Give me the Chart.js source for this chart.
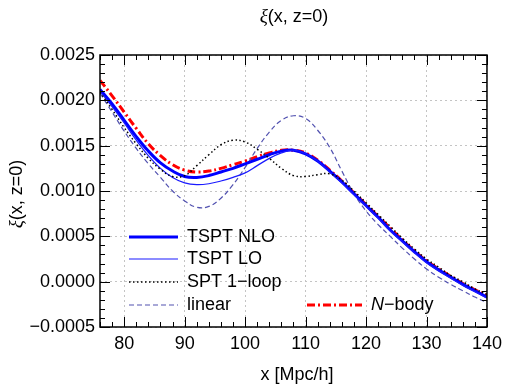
<!DOCTYPE html>
<html>
<head>
<meta charset="utf-8">
<script src="https://cdn.jsdelivr.net/npm/chart.js@4"></script>
<style>
  body { margin: 0; background: #fff; }
</style>
</head>
<body>
<canvas id="xiChart" width="508" height="385"></canvas>
<script>
// separation x in Mpc/h
const xValues = [76, 78, 80, 82, 84, 86, 88, 90, 92, 94, 96, 98, 100, 102, 104, 106, 108,
                 110, 112, 114, 116, 118, 120, 122, 124, 126, 128, 130, 132, 134, 136, 138, 140];

// correlation function values
const nloValues = [0.00212, 0.00196, 0.00178, 0.00160, 0.00144, 0.00131, 0.00122, 0.00116, 0.00115, 0.00117, 0.00121,
                   0.00125, 0.00130, 0.00135, 0.00140, 0.00144, 0.00145, 0.00141, 0.00133, 0.00122, 0.00110, 0.00097,
                   0.00084, 0.00071, 0.00057, 0.00045, 0.00033, 0.00022, 0.00013, 0.00005, -0.00003, -0.00010, -0.00017];
const loValues = [0.00210, 0.00193, 0.00175, 0.00156, 0.00139, 0.00125, 0.00115, 0.00109, 0.00107, 0.00108, 0.00111,
                  0.00115, 0.00120, 0.00128, 0.00136, 0.00142, 0.00145, 0.00141, 0.00133, 0.00121, 0.00109, 0.00096,
                  0.00083, 0.00070, 0.00056, 0.00044, 0.00032, 0.00021, 0.00012, 0.00004, -0.00004, -0.00011, -0.00018];
const sptValues = [0.00209, 0.00190, 0.00170, 0.00152, 0.00136, 0.00124, 0.00116, 0.00117, 0.00128, 0.00140, 0.00151,
                   0.00156, 0.00154, 0.00146, 0.00136, 0.00125, 0.00117, 0.00116, 0.00118, 0.00119, 0.00112, 0.00100,
                   0.00087, 0.00074, 0.00061, 0.00048, 0.00036, 0.00025, 0.00016, 0.00007, 0.00000, -0.00008, -0.00014];
const linearValues = [0.00208, 0.00187, 0.00166, 0.00147, 0.00130, 0.00115, 0.00100, 0.00089, 0.00082, 0.00083, 0.00092,
                      0.00107, 0.00126, 0.00147, 0.00165, 0.00178, 0.00183, 0.00180, 0.00167, 0.00148, 0.00122, 0.00097,
                      0.00078, 0.00063, 0.00050, 0.00037, 0.00025, 0.00014, 0.00005, -0.00003, -0.00010, -0.00017, -0.00023];
const nbodyValues = [0.00222, 0.00205, 0.00187, 0.00169, 0.00152, 0.00139, 0.00129, 0.00123, 0.00121, 0.00122, 0.00125,
                     0.00129, 0.00133, 0.00138, 0.00142, 0.00145, 0.00145, 0.00142, 0.00134, 0.00123, 0.00111, 0.00098,
                     0.00085, 0.00072, 0.00059, 0.00046, 0.00034, 0.00023, 0.00014, 0.00006, -0.00002, -0.00009, -0.00015];

const xTickValues = [80, 90, 100, 110, 120, 130, 140];
const yTickValues = [-0.0005, 0, 0.0005, 0.0010, 0.0015, 0.0020, 0.0025];

const FONT = "'Liberation Sans', Arial, sans-serif";
const SERIF_IT = "italic 19px 'Liberation Serif', 'DejaVu Serif', serif";

function toPoints(values) {
    return xValues.map((x, i) => ({ x: x, y: values[i] }));
}

// draw a run of text pieces with their own fonts, starting at x
function drawParts(ctx, parts, x, y, align) {
    let total = 0;
    parts.forEach(p => { ctx.font = p.font; total += ctx.measureText(p.text).width; });
    let start = align === 'center' ? x - total / 2 : x;
    ctx.textAlign = 'left';
    parts.forEach(p => {
        ctx.font = p.font;
        ctx.fillText(p.text, start, y);
        start += ctx.measureText(p.text).width;
    });
}

// frame with inward ticks on all four sides
const frameTicks = {
    id: 'frameTicks',
    afterDatasetsDraw(chart) {
        const { ctx, chartArea: a, scales: { x, y } } = chart;
        ctx.save();
        ctx.strokeStyle = '#000';
        ctx.lineWidth = 1;
        ctx.beginPath();
        for (let v = 76; v <= 140; v += 2) {
            const px = Math.round(x.getPixelForValue(v)) + 0.5;
            const len = v % 10 === 0 ? 10 : 5;
            ctx.moveTo(px, a.bottom); ctx.lineTo(px, a.bottom - len);
            ctx.moveTo(px, a.top); ctx.lineTo(px, a.top + len);
        }
        for (let i = -5; i <= 25; i++) {
            const py = Math.round(y.getPixelForValue(i / 10000)) + 0.5;
            const len = i % 5 === 0 ? 10 : 5;
            ctx.moveTo(a.left, py); ctx.lineTo(a.left + len, py);
            ctx.moveTo(a.right, py); ctx.lineTo(a.right - len, py);
        }
        ctx.stroke();
        ctx.lineWidth = 1.5;
        ctx.strokeRect(a.left, a.top, a.right - a.left, a.bottom - a.top);
        ctx.restore();
    }
};

// titles and the in-plot legend
const labelsAndLegend = {
    id: 'labelsAndLegend',
    afterDraw(chart) {
        const ctx = chart.ctx;
        const sans = '18px ' + FONT;
        ctx.save();
        ctx.fillStyle = '#000';
        ctx.textBaseline = 'alphabetic';

        // title
        drawParts(ctx, [{ text: '\u03BE', font: SERIF_IT }, { text: '(x, z=0)', font: sans }], 294, 22, 'center');

        // x axis title
        ctx.font = sans;
        ctx.textAlign = 'center';
        ctx.fillText('x [Mpc/h]', 297, 380);

        // y axis title
        ctx.save();
        ctx.translate(22, 194);
        ctx.rotate(-Math.PI / 2);
        drawParts(ctx, [{ text: '\u03BE', font: SERIF_IT }, { text: '(x, z=0)', font: sans }], 0, 0, 'center');
        ctx.restore();

        // legend
        const ds = chart.data.datasets;
        const slots = [
            { i: 0, x: 129, y: 237, w: 49 },
            { i: 1, x: 129, y: 259, w: 49 },
            { i: 2, x: 129, y: 282, w: 49 },
            { i: 3, x: 129, y: 305, w: 49 },
            { i: 4, x: 307, y: 305, w: 55 }
        ];
        slots.forEach(s => {
            const d = ds[s.i];
            ctx.save();
            ctx.strokeStyle = d.borderColor;
            ctx.lineWidth = d.borderWidth;
            ctx.setLineDash(d.borderDash || []);
            ctx.beginPath();
            ctx.moveTo(s.x, s.y);
            ctx.lineTo(s.x + s.w, s.y);
            ctx.stroke();
            ctx.restore();
            const tx = s.x + s.w + 9;
            if (s.i === 4) {
                drawParts(ctx, [{ text: 'N', font: 'italic 18px ' + FONT }, { text: '\u2212body', font: sans }], tx, s.y + 5, 'left');
            } else {
                ctx.font = sans;
                ctx.textAlign = 'left';
                ctx.fillText(d.label, tx, s.y + 5);
            }
        });
        ctx.restore();
    }
};

const ctx = document.getElementById('xiChart').getContext('2d');

new Chart(ctx, {
    type: 'line',
    data: {
        datasets: [
            { label: 'TSPT NLO', data: toPoints(nloValues), borderColor: '#0000ff', borderWidth: 3, order: 2 },
            { label: 'TSPT LO', data: toPoints(loValues), borderColor: '#1a1aff', borderWidth: 1.2, order: 1 },
            { label: 'SPT 1\u2212loop', data: toPoints(sptValues), borderColor: '#000000', borderWidth: 1.5,
              borderDash: [1.5, 2.5], order: 0 },
            { label: 'linear', data: toPoints(linearValues), borderColor: '#5252b0', borderWidth: 1.2,
              borderDash: [5, 3], order: 3 },
            { label: 'N\u2212body', data: toPoints(nbodyValues), borderColor: '#ff0000', borderWidth: 3,
              borderDash: [8, 3, 2, 3], order: 4 }
        ]
    },
    options: {
        responsive: false,
        animation: false,
        layout: { padding: { top: 55, right: 15, left: 0, bottom: 0 } },
        elements: { point: { radius: 0 }, line: { tension: 0.4, fill: false } },
        plugins: {
            legend: { display: false },
            title: { display: false },
            tooltip: { enabled: false }
        },
        scales: {
            x: {
                type: 'linear',
                min: 76,
                max: 140,
                afterBuildTicks: s => { s.ticks = xTickValues.map(v => ({ value: v })); },
                afterFit: s => { s.height = 58; },
                grid: { color: '#c4c4c4', lineWidth: 1, drawTicks: false },
                border: { display: false, dash: [2, 3] },
                ticks: { color: '#000', padding: 6, maxRotation: 0, font: { family: FONT, size: 18 } }
            },
            y: {
                type: 'linear',
                min: -0.0005,
                max: 0.0025,
                afterBuildTicks: s => { s.ticks = yTickValues.map(v => ({ value: v })); },
                afterFit: s => { s.width = 100; },
                grid: { color: '#c4c4c4', lineWidth: 1, drawTicks: false },
                border: { display: false, dash: [2, 3] },
                ticks: {
                    color: '#000',
                    padding: 5,
                    font: { family: FONT, size: 18 },
                    callback: v => (v < 0 ? '\u2212' : '') + Math.abs(v).toFixed(4)
                }
            }
        }
    },
    plugins: [frameTicks, labelsAndLegend]
});
</script>
</body>
</html>
